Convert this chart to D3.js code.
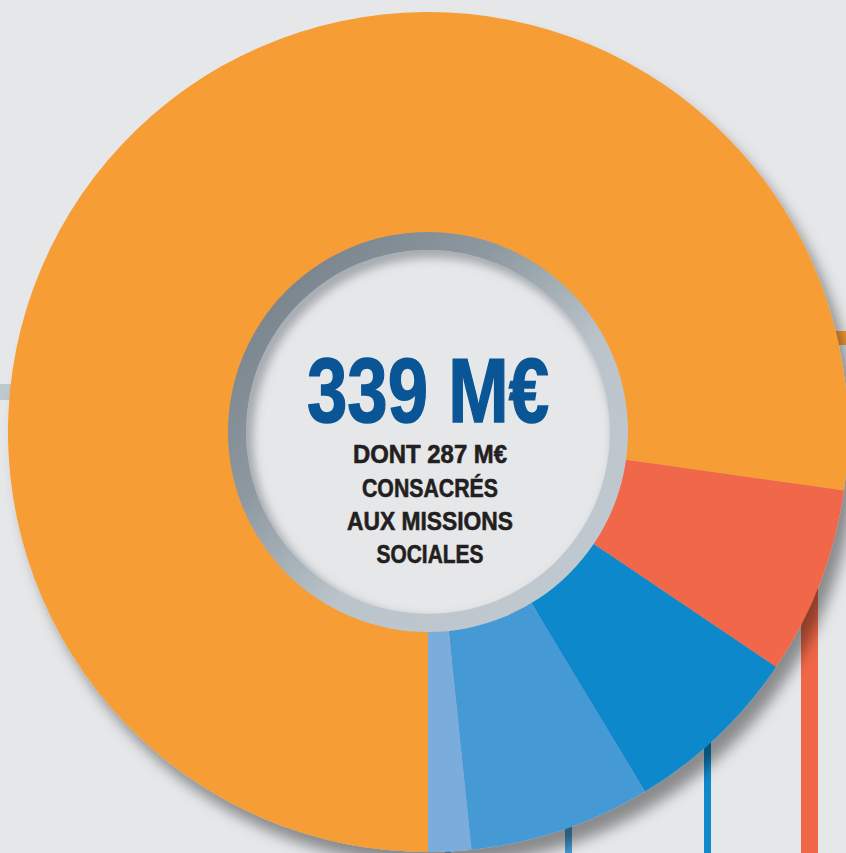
<!DOCTYPE html>
<html>
<head>
<meta charset="utf-8">
<script src="https://cdn.jsdelivr.net/npm/d3@7"></script>
<style>
  html, body { margin: 0; padding: 0; background: #e6e7e9; }
  svg { display: block; }
</style>
</head>
<body>
<div id="chart"></div>
<script>
// slices, clockwise from the bottom (values in M€)
const categories = ["Missions sociales", "Poste 2", "Poste 3", "Poste 4", "Poste 5"];
const values = [261.8, 24.5, 23.4, 23.7, 5.6];
const colors = ["#f79d34", "#f06748", "#0f89cb", "#4599d4", "#7aaddc"];

const totalLabel = "339 M€";
const subLines = ["DONT 287 M€", "CONSACRÉS", "AUX MISSIONS", "SOCIALES"];

const width = 846, height = 853;
const cx = 428, cy = 432;
const outerR = 420, innerR = 200, holeR = 182;

const svg = d3.select("#chart").append("svg")
    .attr("width", width)
    .attr("height", height);

const defs = svg.append("defs");

defs.append("filter")
    .attr("id", "dropShadow")
    .attr("x", "-20%").attr("y", "-20%")
    .attr("width", "140%").attr("height", "140%")
  .append("feDropShadow")
    .attr("dx", 9).attr("dy", 14)
    .attr("stdDeviation", 7)
    .attr("flood-color", "#000")
    .attr("flood-opacity", 0.4);

defs.append("filter")
    .attr("id", "blur")
    .attr("x", "-20%").attr("y", "-20%")
    .attr("width", "140%").attr("height", "140%")
  .append("feGaussianBlur")
    .attr("stdDeviation", 5);

const ringGrad = defs.append("linearGradient")
    .attr("id", "ringGrad")
    .attr("x1", 0).attr("y1", 0)
    .attr("x2", 1).attr("y2", 1);
[["0%", "#6f7981"], ["35%", "#8e98a0"], ["60%", "#bac4ca"], ["100%", "#c1cbd1"]]
    .forEach(s => ringGrad.append("stop").attr("offset", s[0]).attr("stop-color", s[1]));

defs.append("clipPath").attr("id", "holeClip")
  .append("circle").attr("r", holeR);

svg.append("rect")
    .attr("width", width).attr("height", height)
    .attr("fill", "#e6e7e9");

// connector bars that run behind the donut
const bars = svg.append("g");
bars.append("rect").attr("x", 0).attr("y", 384).attr("width", 40).attr("height", 16).attr("fill", "#bdc8cf");
bars.append("rect").attr("x", 800).attr("y", 331).attr("width", 46).attr("height", 14).attr("fill", colors[0]);
bars.append("rect").attr("x", 801).attr("y", 560).attr("width", 17).attr("height", 300).attr("fill", colors[1]);
bars.append("rect").attr("x", 704).attr("y", 700).attr("width", 7).attr("height", 160).attr("fill", colors[2]);
bars.append("rect").attr("x", 565).attr("y", 780).attr("width", 7).attr("height", 80).attr("fill", colors[3]);
bars.append("rect").attr("x", 445).attr("y", 820).attr("width", 6).attr("height", 40).attr("fill", colors[4]);

const g = svg.append("g")
    .attr("transform", `translate(${cx}, ${cy})`);

const pie = d3.pie()
    .sort(null)
    .startAngle(Math.PI)
    .endAngle(3 * Math.PI);

const arc = d3.arc()
    .innerRadius(innerR - 4)
    .outerRadius(outerR);

const donut = g.append("g")
    .attr("filter", "url(#dropShadow)");

donut.selectAll("path")
    .data(pie(values))
    .join("path")
    .attr("d", arc)
    .attr("fill", (d, i) => colors[i]);

// grey bevel ring
g.append("path")
    .attr("d", d3.arc().innerRadius(holeR - 1).outerRadius(innerR)({ startAngle: 0, endAngle: 2 * Math.PI }))
    .attr("fill", "url(#ringGrad)");

// centre disc with a soft inset shadow on the upper left
g.append("circle")
    .attr("r", holeR)
    .attr("fill", "#e6e7e9");

g.append("g")
    .attr("clip-path", "url(#holeClip)")
  .append("circle")
    .attr("cx", 5).attr("cy", 6)
    .attr("r", holeR + 6)
    .attr("fill", "none")
    .attr("stroke", "#6d7780")
    .attr("stroke-opacity", 0.55)
    .attr("stroke-width", 16)
    .attr("filter", "url(#blur)");

// labels
g.append("text")
    .attr("x", 0)
    .attr("y", -10)
    .attr("text-anchor", "middle")
    .attr("textLength", 242)
    .attr("lengthAdjust", "spacingAndGlyphs")
    .style("font-family", "'Liberation Sans', Arial, sans-serif")
    .style("font-weight", "bold")
    .style("font-size", "90px")
    .style("fill", "#0a5596")
    .style("stroke", "#0a5596")
    .style("stroke-width", 1.5)
    .text(totalLabel);

const subWidths = [154, 136, 166, 107];
const subBaselines = [31, 65, 98, 131];

g.selectAll("text.sub")
    .data(subLines)
    .join("text")
    .attr("class", "sub")
    .attr("x", 2)
    .attr("y", (d, i) => subBaselines[i])
    .attr("text-anchor", "middle")
    .attr("textLength", (d, i) => subWidths[i])
    .attr("lengthAdjust", "spacingAndGlyphs")
    .style("font-family", "'Liberation Sans', Arial, sans-serif")
    .style("font-weight", "bold")
    .style("font-size", "26px")
    .style("fill", "#231f20")
    .style("stroke", "#231f20")
    .style("stroke-width", 0.6)
    .text(d => d);
</script>
</body>
</html>
